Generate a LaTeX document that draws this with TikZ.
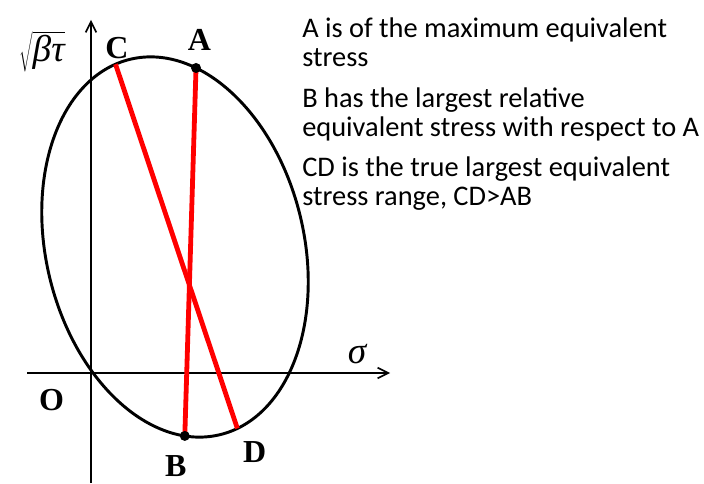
\documentclass[tikz,border=0pt]{standalone}
\usepackage{fontspec}
\setmainfont{Liberation Serif}
\newfontfamily\notefont{Carlito}
\usetikzlibrary{arrows.meta, positioning}

\begin{document}
\begin{tikzpicture}[x=0.75pt, y=0.75pt,
    axis/.style={line width=1.2pt, -{Straight Barb[length=8pt, width=8pt]}},
    chord/.style={red, line width=3.6pt},
    rim/.style={line width=2.2pt},
    lbl/.style={inner sep=0pt, font=\fontsize{24}{24}\selectfont\bfseries},
    sym/.style={inner sep=0pt, font=\fontsize{28}{28}\selectfont\itshape}]
    \useasboundingbox (0,0) rectangle (704,483);
    \coordinate (O) at (91,110);
    \coordinate (ybot) at (91,0);
    \coordinate (ytop) at (91,463);
    \coordinate (xl) at (27,110);
    \coordinate (xr) at (390,110);
    \coordinate (ctr) at (175,236);
    \draw[axis] (ybot) -- (ytop);
    \draw[axis] (xl) -- (xr);
    \draw[rim] (ctr) ellipse [x radius=193, y radius=129, rotate=-76.6];
    % points on the ellipse
    \begin{scope}[shift={(ctr)}, rotate=-76.6]
        \coordinate (A) at (151.3:193 and 129);
        \coordinate (B) at (-15.4:193 and 129);
        \coordinate (C) at (186.9:193 and 129);
        \coordinate (D) at (8.3:193 and 129);
    \end{scope}
    \draw[chord] (A) -- (B);
    \draw[chord] (C) -- (D);
    \fill (A) circle (5);
    \fill (B) circle (5);
    \node[lbl, above=13pt of A, xshift=2.5pt] (labA) {A};
    \node[lbl, above=3.7pt of C, xshift=1pt] (labC) {C};
    \node[lbl, below=14.5pt of B, xshift=-6.8pt] (labB) {B};
    \node[lbl, below=9.7pt of D, xshift=13pt] (labD) {D};
    \node[lbl, below left=12pt and 20pt of O] (labO) {O};
    \node[sym] (tau) at (42,431) {$\sqrt{\hbox{βτ}\vphantom{\Big|}}$};
    \node[sym] (sigma) at (357,129) {σ};
    \node[anchor=north west, inner sep=0pt, align=left,
        font=\notefont\fontsize{21.3}{21.75}\selectfont] (notes) at (302,465)
        {A is of the maximum equivalent\\ stress\\[8.6pt]
         B has the largest relative\\ equivalent stress with respect to A\\[8.6pt]
         CD is the true largest equivalent\\ stress range, CD>AB};
\end{tikzpicture}
\end{document}
